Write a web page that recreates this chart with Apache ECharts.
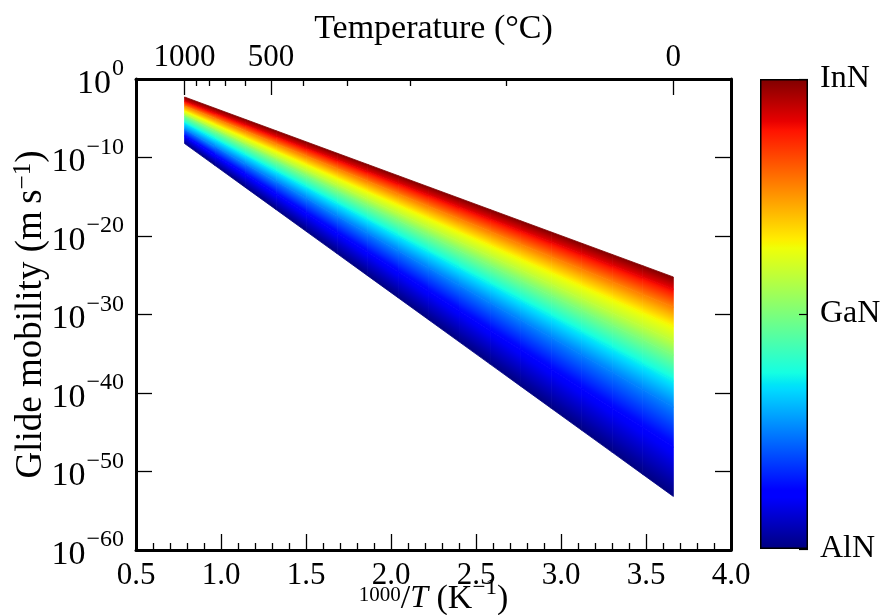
<!DOCTYPE html>
<html>
<head>
<meta charset="utf-8">
<script src="https://cdn.jsdelivr.net/npm/echarts@6/dist/echarts.min.js"></script>
<style>
html,body{margin:0;padding:0;background:#fff;}
#chart{width:887px;height:615px;}
</style>
</head>
<body>
<div id="chart"></div>
<script>
// ---- data ----
// 1000/T end points of every line (1000 °C and 0 °C)
const lineX = [0.7855, 3.661];
// composition position on the colour bar (1 = InN, 0.5 = GaN, 0 = AlN)
const compositionFrac = [1, 0.91, 0.775, 0.65, 0.58, 0.5, 0.36, 0.25, 0.12, 0];
// log10 of glide mobility at the hot end (1000/T = 0.7855)
const log10MobilityHot = [-2.29, -2.87, -3.44, -4.08, -4.46, -4.78, -5.61, -6.43, -7.26, -8.22];
// log10 of glide mobility at the cold end (1000/T = 3.661)
const log10MobilityCold = [-25.22, -26.75, -29.04, -31.46, -33.38, -35.16, -38.47, -41.78, -46.88, -53.18];
// axis ticks
const tempMajor = [1000, 500, 0];
const tempMinor = [900, 800, 700, 600, 400, 300, 200, 100];
const yMinExponent = [-60];
const colorbarLabels = ['AlN', 'GaN', 'InN'];
const colorbarTicks = [0, 0.5, 1];

// ---- jet colour map ----
const JET = {
  r: [[0, 0], [0.35, 0], [0.66, 1], [0.89, 1], [1, 0.5]],
  g: [[0, 0], [0.125, 0], [0.375, 1], [0.64, 1], [0.91, 0], [1, 0]],
  b: [[0, 0.5], [0.11, 1], [0.34, 1], [0.65, 0], [1, 0]]
};
function lerpPts(pts, t) {
  for (let i = 0; i < pts.length - 1; i++) {
    if (t <= pts[i + 1][0]) {
      const f = (t - pts[i][0]) / (pts[i + 1][0] - pts[i][0]);
      return pts[i][1] + (pts[i + 1][1] - pts[i][1]) * f;
    }
  }
  return pts[pts.length - 1][1];
}
function jet(t) {
  t = Math.max(0, Math.min(1, t));
  const c = k => Math.round(255 * lerpPts(JET[k], t));
  return 'rgb(' + c('r') + ',' + c('g') + ',' + c('b') + ')';
}
const JET_BREAKS = [0, 0.11, 0.125, 0.34, 0.35, 0.375, 0.64, 0.65, 0.66, 0.89, 0.91, 1];

const FONT = "'Liberation Serif','DejaVu Serif',serif";
const toC = v => Math.round(1000 / v - 273.15);
const toInvT = T => 1000 / (T + 273.15);
const powLabel = e => '{b|10}{s|' + (e < 0 ? '−' + (-e) : String(e)) + '}';

function bandStops(c0, c1) {
  const stops = [];
  const n = 8;
  for (let k = 0; k <= n; k++) {
    stops.push({ offset: k / n, color: jet(c0 + (c1 - c0) * k / n) });
  }
  return stops;
}

const bands = compositionFrac.slice(0, -1).map((f, i) => [lineX[0], Math.pow(10, log10MobilityHot[i]), i]);

function renderBand(params, api) {
  const i = api.value(2);
  const A = api.coord([lineX[0], Math.pow(10, log10MobilityHot[i])]);
  const B = api.coord([lineX[1], Math.pow(10, log10MobilityCold[i])]);
  const D = api.coord([lineX[0], Math.pow(10, log10MobilityHot[i + 1])]);
  const C = api.coord([lineX[1], Math.pow(10, log10MobilityCold[i + 1])]);
  const stops = bandStops(compositionFrac[i], compositionFrac[i + 1]);
  const segs = 16;
  const P = t => [A[0] + (B[0] - A[0]) * t, A[1] + (B[1] - A[1]) * t];
  const Q = t => [D[0] + (C[0] - D[0]) * t, D[1] + (C[1] - D[1]) * t];
  const children = [];
  for (let s = 0; s < segs; s++) {
    const t0 = s / segs, t1 = (s + 1) / segs, tm = (t0 + t1) / 2;
    const p0 = P(t0), p1 = P(t1), q0 = Q(t0), q1 = Q(t1), pm = P(tm), qm = Q(tm);
    let ux = (p1[0] - p0[0]) + (q1[0] - q0[0]);
    let uy = (p1[1] - p0[1]) + (q1[1] - q0[1]);
    const L = Math.hypot(ux, uy); ux /= L; uy /= L;
    const nx = -uy, ny = ux;
    const w = (qm[0] - pm[0]) * nx + (qm[1] - pm[1]) * ny;
    const grad = new echarts.graphic.LinearGradient(pm[0], pm[1], pm[0] + nx * w, pm[1] + ny * w, stops, true);
    children.push({
      type: 'polygon',
      shape: { points: [p0, p1, q1, q0] },
      style: { fill: grad, stroke: grad, lineWidth: 0.8 }
    });
  }
  return { type: 'group', children: children };
}

const cbStops = JET_BREAKS.slice().reverse().map(t => ({ offset: 1 - t, color: jet(t) }));

const chart = echarts.init(document.getElementById('chart'), null, { renderer: 'canvas' });
const axisLineStyle = { color: '#000', width: 3 };
const tickStyle = { color: '#000', width: 1.3 };
const mainRect = { left: 136, top: 79, width: 595, height: 471, containLabel: false, outerBoundsMode: 'none' };
const powRich = {
  b: { fontSize: 34, fontFamily: FONT, color: '#000', lineHeight: 32, padding: [10, 0, 0, 0] },
  s: { fontSize: 24, fontFamily: FONT, color: '#000', lineHeight: 22, padding: [0, 0, 20, 1] }
};

chart.setOption({
  animation: false,
  backgroundColor: '#fff',
  textStyle: { fontFamily: FONT, color: '#000' },
  grid: [
    Object.assign({}, mainRect),
    { left: 760, top: 79, width: 48, height: 470, containLabel: false, outerBoundsMode: 'none' },
    Object.assign({}, mainRect),
    Object.assign({}, mainRect)
  ],
  xAxis: [
    {
      gridIndex: 0, type: 'value', position: 'bottom', min: 0.5, max: 4.0, interval: 0.5,
      axisLine: { show: true, onZero: false, lineStyle: axisLineStyle },
      axisTick: { show: true, inside: true, length: 16, lineStyle: tickStyle },
      minorTick: { show: true, splitNumber: 5, length: 7, lineStyle: tickStyle },
      splitLine: { show: false },
      axisLabel: {
        show: true, margin: 10, fontSize: 31, fontFamily: FONT, color: '#000',
        showMinLabel: true, showMaxLabel: true,
        formatter: v => v.toFixed(1)
      },
      name: '{sm|1000}{sl|/}{it|T}{n| (K}{sup|−1}{n|)}',
      nameLocation: 'middle', nameGap: 32, nameMoveOverlap: false,
      nameTextStyle: {
        fontFamily: FONT, color: '#000',
        rich: {
          sm: { fontSize: 21, fontFamily: FONT, color: '#000', lineHeight: 21, padding: [0, 0, 8, 0] },
          sl: { fontSize: 34, fontFamily: FONT, color: '#000', lineHeight: 34 },
          it: { fontSize: 32, fontFamily: FONT, color: '#000', fontStyle: 'italic', lineHeight: 34 },
          n: { fontSize: 34, fontFamily: FONT, color: '#000', lineHeight: 34 },
          sup: { fontSize: 23, fontFamily: FONT, color: '#000', lineHeight: 23, padding: [0, 0, 22, 0] }
        }
      }
    },
    {
      gridIndex: 1, type: 'category', data: ['c'], show: false
    },
    {
      gridIndex: 2, type: 'value', position: 'top', min: 0.5, max: 4.0,
      axisLine: { show: true, onZero: false, lineStyle: axisLineStyle },
      axisTick: { show: true, inside: true, length: 16, lineStyle: tickStyle, customValues: tempMajor.map(toInvT) },
      splitLine: { show: false },
      axisLabel: {
        show: true, margin: 6, fontSize: 31, fontFamily: FONT, color: '#000',
        customValues: tempMajor.map(toInvT), formatter: v => String(toC(v))
      },
      name: 'Temperature (°C)', nameLocation: 'middle', nameGap: 33, nameMoveOverlap: false,
      nameTextStyle: { fontSize: 34, fontFamily: FONT, color: '#000' }
    },
    {
      gridIndex: 3, type: 'value', position: 'top', min: 0.5, max: 4.0,
      axisLine: { show: false, onZero: false },
      axisTick: { show: true, inside: true, length: 7, lineStyle: tickStyle, customValues: tempMinor.map(toInvT) },
      splitLine: { show: false },
      axisLabel: { show: false }
    }
  ],
  yAxis: [
    {
      gridIndex: 0, type: 'log', logBase: 10, min: 1e-60, max: 1, position: 'left',
      axisLine: { show: true, onZero: false, lineStyle: axisLineStyle },
      axisTick: { show: true, inside: true, length: 16, lineStyle: tickStyle },
      minorTick: { show: false },
      splitLine: { show: false },
      axisLabel: {
        show: true, margin: 12, color: '#000', showMinLabel: true, showMaxLabel: true, hideOverlap: false,
        formatter: v => powLabel(Math.round(Math.log10(v))),
        rich: powRich
      },
      name: '{n|Glide mobility (m\u2009s}{sup|−1}{n|)}',
      nameLocation: 'middle', nameGap: 86, nameRotate: 90, nameMoveOverlap: false,
      nameTextStyle: {
        color: '#000',
        rich: {
          n: { fontSize: 37, fontFamily: FONT, color: '#000', lineHeight: 37 },
          sup: { fontSize: 25, fontFamily: FONT, color: '#000', lineHeight: 25, padding: [0, 0, 16, 0] }
        }
      }
    },
    {
      gridIndex: 0, type: 'log', logBase: 10, min: 1e-60, max: 1, position: 'right',
      axisLine: { show: true, onZero: false, lineStyle: axisLineStyle },
      axisTick: { show: true, inside: true, length: 16, lineStyle: tickStyle },
      splitLine: { show: false },
      axisLabel: { show: false }
    },
    {
      gridIndex: 1, type: 'value', min: 0, max: 1, interval: 0.5, position: 'right', z: 5,
      axisLine: { show: false },
      axisTick: { show: true, inside: true, length: 9, lineStyle: { color: '#000', width: 1.2 } },
      splitLine: { show: false },
      axisLabel: {
        show: true, margin: 12, fontSize: 32, fontFamily: FONT, color: '#000',
        showMinLabel: true, showMaxLabel: true,
        formatter: v => colorbarLabels[colorbarTicks.indexOf(v)]
      }
    },
    {
      gridIndex: 2, type: 'value', min: -60, max: 0, position: 'left',
      axisLine: { show: false, onZero: false }, axisTick: { show: false }, splitLine: { show: false },
      axisLabel: {
        show: true, margin: 12, color: '#000', customValues: yMinExponent,
        showMinLabel: true, hideOverlap: false,
        formatter: v => powLabel(Math.round(v)),
        rich: powRich
      }
    },
    { gridIndex: 3, type: 'value', min: 0, max: 1, show: false }
  ],
  series: [
    {
      type: 'custom', xAxisIndex: 0, yAxisIndex: 0,
      data: bands, encode: { x: 0, y: 1 },
      renderItem: renderBand, clip: true, silent: true
    },
    {
      type: 'bar', xAxisIndex: 1, yAxisIndex: 2,
      data: [1], barWidth: '100%', barCategoryGap: 0, z: 1,
      itemStyle: {
        color: new echarts.graphic.LinearGradient(0, 0, 0, 1, cbStops),
        borderColor: '#000', borderWidth: 1.5
      },
      silent: true
    }
  ]
});
</script>
</body>
</html>
